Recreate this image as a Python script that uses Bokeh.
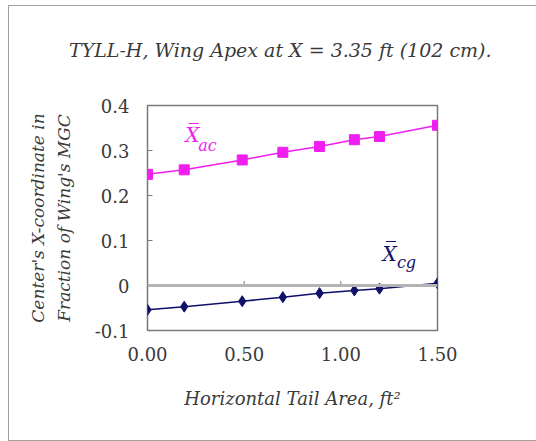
from bokeh.plotting import figure
from bokeh.models import (FixedTicker, NumeralTickFormatter, Span, Label, Div,
                          ColumnDataSource)
from bokeh.layouts import column
from bokeh.embed import file_html
from bokeh.resources import INLINE

# data
tail_area = [0.0, 0.19, 0.49, 0.70, 0.89, 1.07, 1.20, 1.50]
x_ac = [0.247, 0.257, 0.279, 0.296, 0.309, 0.324, 0.331, 0.356]
x_cg = [-0.054, -0.047, -0.035, -0.026, -0.017, -0.011, -0.007, 0.005]
x_ticks = [0.0, 0.5, 1.0, 1.5]
y_ticks = [-0.1, 0.0, 0.1, 0.2, 0.3, 0.4]
y_tick_labels = ["-0.1", "0", "0.1", "0.2", "0.3", "0.4"]
title_text = "TYLL-H, Wing Apex at X = 3.35 ft (102 cm)."

SERIF = "DejaVu Serif"
MAG = "#f01ef0"
NAVY = "#10106a"
TXT = "#3a3a3a"

TOP = 60
title_div = Div(
    text=('<div style="font-family:\'DejaVu Serif\';font-style:italic;'
          'font-size:19px;line-height:22px;color:%s;white-space:nowrap;'
          'padding:33px 0 0 60px;">%s</div>') % (TXT, title_text),
    width=527, height=TOP, margin=0,
    styles={"background-color": "white"})

p = figure(width=527, height=434 - TOP, x_range=(0, 1.5), y_range=(-0.1, 0.4),
           output_backend="svg", toolbar_location=None,
           min_border_left=138, min_border_right=99, min_border_top=99 - TOP,
           min_border_bottom=110, margin=0)
p.grid.visible = False
p.outline_line_color = "#7a7a7a"
p.outline_line_width = 1.5
p.background_fill_color = "white"
p.border_fill_color = "white"

# zero line
p.add_layout(Span(location=0, dimension="width", line_color="#b4b4b4", line_width=3))

src = ColumnDataSource(dict(x=tail_area, ac=x_ac, cg=x_cg))
p.line("x", "ac", source=src, line_color=MAG, line_width=1.5)
p.scatter("x", "ac", source=src, marker="square", size=10, color=MAG)
p.line("x", "cg", source=src, line_color=NAVY, line_width=1.5)
p.scatter("x", "cg", source=src, marker="diamond", size=11, color=NAVY)

# small tick marks on the zero line
p.segment(x0=x_ticks[1:3], y0=[0, 0], x1=x_ticks[1:3], y1=[0.01, 0.01],
          line_color="#7a7a7a", line_width=1)

# axes
xa = p.xaxis[0]
xa.ticker = FixedTicker(ticks=x_ticks)
xa.formatter = NumeralTickFormatter(format="0.00")
xa.axis_line_color = None
xa.major_tick_line_color = None
xa.minor_tick_line_color = None
xa.major_label_text_font = SERIF
xa.major_label_text_font_size = "18px"
xa.major_label_text_color = TXT
xa.major_label_standoff = 10
xa.axis_label = "Horizontal Tail Area, ft²"
xa.axis_label_text_font = SERIF
xa.axis_label_text_font_style = "italic"
xa.axis_label_text_font_size = "18px"
xa.axis_label_text_color = TXT
xa.axis_label_standoff = 24

ya = p.yaxis[0]
ya.ticker = FixedTicker(ticks=y_ticks)
ya.major_label_overrides = {t_: l_ for t_, l_ in zip(y_ticks, y_tick_labels)}
ya.axis_line_color = None
ya.major_tick_in = 5
ya.major_tick_out = 0
ya.major_tick_line_color = "#7a7a7a"
ya.minor_tick_line_color = None
ya.major_label_text_font = SERIF
ya.major_label_text_font_size = "18px"
ya.major_label_text_color = TXT
ya.major_label_standoff = 18
ya.axis_label = "Center's X-coordinate in\nFraction of Wing's MGC"
ya.axis_label_text_font = SERIF
ya.axis_label_text_font_style = "italic"
ya.axis_label_text_font_size = "17px"
ya.axis_label_text_color = TXT
ya.axis_label_text_line_height = 1.3
ya.axis_label_standoff = 18

# series labels
for txt, x, y, size, col in [("X\u0305", 0.195, 0.307, "20px", MAG),
                             ("ac", 0.262, 0.291, "16px", MAG),
                             ("X\u0305", 1.215, 0.044, "20px", NAVY),
                             ("cg", 1.29, 0.030, "16px", NAVY)]:
    p.add_layout(Label(x=x, y=y, text=txt, text_font=SERIF, text_font_style="italic",
                       text_font_size=size, text_color=col))

layout = column(title_div, p, spacing=0, margin=(5, 0, 0, 8),
                styles={"border-left": "1px solid #a0a0a0",
                        "border-top": "1px solid #a0a0a0",
                        "border-bottom": "1px solid #a0a0a0",
                        "background-color": "white"})

open("out.html", "w").write(file_html(layout, INLINE))
